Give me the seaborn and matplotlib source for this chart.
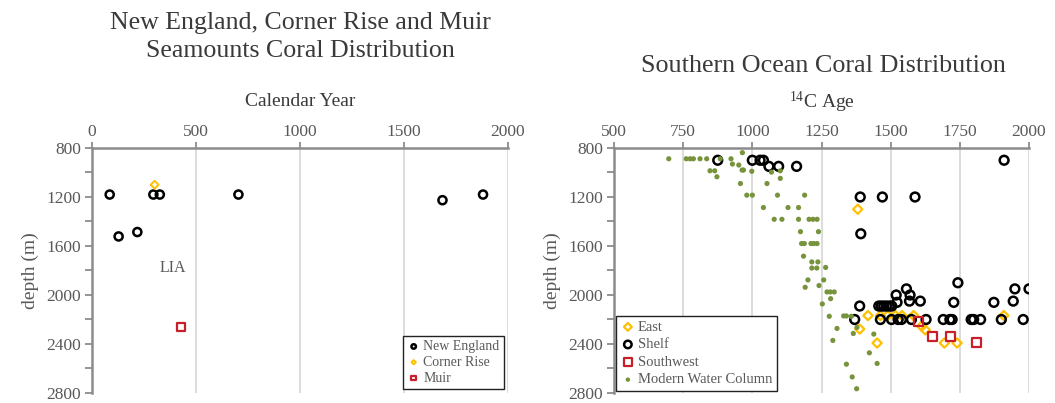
import numpy as np
import pandas as pd
import matplotlib
matplotlib.use("Agg")
import matplotlib.pyplot as plt
from matplotlib.ticker import MultipleLocator
import seaborn as sns

# ---------------- North Atlantic seamounts (calendar year vs depth) ----------------
ne_year = [85, 128, 218, 295, 326, 704, 1685, 1880]
ne_depth = [1180, 1522, 1486, 1180, 1180, 1180, 1226, 1180]

cr_year = [301]
cr_depth = [1100]

muir_year = [427]
muir_depth = [2263]

# ---------------- Southern Ocean (14C age vs depth) ----------------
east_age = [1381, 1418, 1463, 1489, 1517, 1541, 1583, 1388, 1451, 1612, 1625,
            1694, 1740, 1909]
east_depth = [1300, 2168, 2168, 2168, 2168, 2168, 2168, 2278, 2392, 2255, 2285,
              2392, 2392, 2168]

shelf_age = [875, 1000, 1028, 1040, 1060, 1095, 1160, 1910,
             1390, 1470, 1588, 1392,
             1743, 1557, 1949, 2000,
             1520, 1570,
             1523, 1568, 1607, 1728, 1873, 1943,
             1388, 1457, 1466, 1475, 1485, 1495, 1504,
             1370, 1463, 1503, 1527, 1539, 1575, 1628, 1690, 1714, 1722,
             1791, 1800, 1825, 1900, 1979]
shelf_depth = [900, 900, 900, 900, 950, 950, 950, 900,
               1200, 1200, 1200, 1500,
               1900, 1950, 1950, 1950,
               2000, 2000,
               2060, 2050, 2050, 2060, 2060, 2050,
               2090, 2090, 2090, 2090, 2090, 2090, 2090,
               2200, 2200, 2200, 2200, 2200, 2200, 2200, 2200, 2200, 2200,
               2200, 2200, 2200, 2200, 2200]

sw_age = [1600, 1650, 1715, 1812]
sw_depth = [2220, 2340, 2340, 2390]

water_age = [698, 761, 775, 787, 811, 835, 884, 923, 964, 928, 951,
             847, 864, 963, 968, 998, 872, 957, 1053, 1069, 1101, 1101,
             980, 1000, 1091, 1189, 1040, 1129, 1167, 1079, 1107, 1167,
             1205, 1219, 1234, 1174, 1239,
             1178, 1188, 1212, 1222, 1234, 1185, 1215, 1237, 1215, 1233, 1265,
             1201, 1258, 1191, 1241, 1270, 1282, 1296, 1283, 1253,
             1278, 1330, 1340, 1358, 1306, 1378, 1365, 1291, 1439,
             1423, 1451, 1340, 1361, 1377]
water_depth = [888, 888, 888, 888, 888, 888, 888, 888, 838, 931, 939,
               986, 986, 980, 980, 990, 1035, 1090, 1090, 997, 986, 1048,
               1185, 1185, 1185, 1185, 1286, 1286, 1286, 1382, 1382, 1382,
               1382, 1382, 1382, 1483, 1483,
               1580, 1580, 1580, 1580, 1580, 1683, 1730, 1730, 1780, 1780, 1775,
               1877, 1877, 1937, 1923, 1975, 1975, 1975, 2030, 2073,
               2174, 2171, 2171, 2174, 2273, 2265, 2314, 2371, 2319,
               2472, 2559, 2565, 2669, 2765]

# ---------------- Style ----------------
sns.set_theme(style="white")
plt.rcParams["font.family"] = ["Liberation Serif", "DejaVu Serif"]
plt.rcParams["mathtext.fontset"] = "custom"
plt.rcParams["mathtext.rm"] = "Liberation Serif"
plt.rcParams["mathtext.it"] = "Liberation Serif:italic"
plt.rcParams["mathtext.bf"] = "Liberation Serif:bold"

TXT = "#595959"
TITLE = "#3a3a3a"
SPINE = "#8c8c8c"
GRID = "#d9d9d9"
BLACK = "#000000"
GOLD = "#FFC000"
RED = "#C8202A"
GREEN = "#77933C"

fig = plt.figure(figsize=(10.55, 4.03), dpi=100)
ax1 = fig.add_axes([92 / 1055, 1 - 393 / 403, 416 / 1055, 245 / 403])
ax2 = fig.add_axes([614 / 1055, 1 - 393 / 403, 415 / 1055, 245 / 403])


def style_axes(ax, xlim, xstep):
    ax.set_xlim(*xlim)
    ax.set_ylim(2800, 800)
    ax.xaxis.set_major_locator(MultipleLocator(xstep))
    ax.yaxis.set_major_locator(MultipleLocator(400))
    ax.yaxis.set_minor_locator(MultipleLocator(200))
    ax.xaxis.tick_top()
    ax.xaxis.set_label_position("top")
    for side in ("right", "bottom"):
        ax.spines[side].set_visible(False)
    for side in ("top", "left"):
        ax.spines[side].set_color(SPINE)
        ax.spines[side].set_linewidth(1.8)
    ax.grid(axis="x", color=GRID, linewidth=1.3)
    ax.grid(axis="y", visible=False)
    ax.set_axisbelow(True)
    ax.tick_params(axis="both", which="both", direction="out", color=SPINE,
                   width=1.3, labelcolor=TXT, labelsize=12.5)
    ax.tick_params(axis="y", which="major", length=5, pad=3, left=True)
    ax.tick_params(axis="y", which="minor", length=5, left=True)
    ax.tick_params(axis="x", which="major", length=4, pad=2, top=True, bottom=False)
    ax.set_ylabel("depth (m)", fontsize=14, color=TXT, labelpad=5)


def hollow(ax, x, y, marker, color, size, lw, label):
    df = pd.DataFrame({"x": x, "y": y})
    sns.scatterplot(data=df, x="x", y="y", ax=ax, marker=marker, s=size,
                    color=color, facecolor="none", edgecolor=color,
                    linewidth=lw, label=label, zorder=3)


# Left panel
hollow(ax1, ne_year, ne_depth, "o", BLACK, 34, 1.8, "New England")
hollow(ax1, cr_year, cr_depth, "D", GOLD, 16, 1.4, "Corner Rise")
hollow(ax1, muir_year, muir_depth, "s", RED, 34, 1.6, "Muir")
style_axes(ax1, (0, 2000), 500)
ax1.set_xlabel("Calendar Year", fontsize=14, color=TITLE, labelpad=13)
ax1.text(390, 1780, "LIA", ha="center", va="center", fontsize=11.5, color=TXT)
fig.text(300 / 1055, 1 - 37 / 403,
         "New England, Corner Rise and Muir\nSeamounts Coral Distribution",
         ha="center", va="center", fontsize=18.6, color=TITLE, linespacing=1.32)
leg1 = ax1.legend(loc="lower right", fontsize=10, frameon=True, fancybox=False,
                  framealpha=1, edgecolor="#222222", markerscale=0.55,
                  handletextpad=0.2, borderpad=0.3, labelspacing=0.2,
                  handlelength=1.0, borderaxespad=0.3)
leg1.get_frame().set_linewidth(1.0)
for t in leg1.get_texts():
    t.set_color(TXT)

# Right panel
hollow(ax2, east_age, east_depth, "D", GOLD, 22, 1.6, "East")
hollow(ax2, shelf_age, shelf_depth, "o", BLACK, 40, 1.8, "Shelf")
hollow(ax2, sw_age, sw_depth, "s", RED, 42, 1.6, "Southwest")
sns.scatterplot(x=water_age, y=water_depth, ax=ax2, marker="o", s=14,
                color=GREEN, edgecolor="none", linewidth=0,
                label="Modern Water Column", zorder=4)
style_axes(ax2, (500, 2000), 250)
ax2.set_xlabel(r"$^{14}$C Age", fontsize=14, color=TITLE, labelpad=11)
fig.text(823 / 1055, 1 - 66 / 403, "Southern Ocean Coral Distribution",
         ha="center", va="center", fontsize=18.8, color=TITLE)
leg2 = ax2.legend(loc="lower left", fontsize=10.5, frameon=True, fancybox=False,
                  framealpha=1, edgecolor="#222222", markerscale=0.85,
                  handletextpad=0.2, borderpad=0.3, labelspacing=0.3,
                  handlelength=1.0, borderaxespad=0.15)
leg2.get_frame().set_linewidth(1.0)
for t in leg2.get_texts():
    t.set_color(TXT)

fig.savefig("out.png", dpi=100)
